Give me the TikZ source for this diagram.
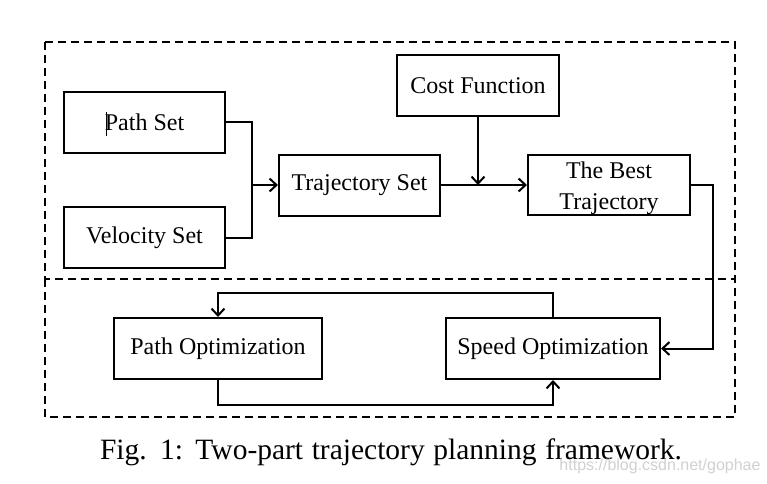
\documentclass[tikz,border=0pt]{standalone}
\usepackage{fontspec}
\setmainfont{Liberation Serif}
\newfontfamily\wmfont{Liberation Sans}
\usetikzlibrary{arrows.meta}
\begin{document}
\begin{tikzpicture}[x=1pt,y=-1pt,
  boxnode/.style={draw, line width=2pt, inner sep=0pt, minimum height=61pt,
    font=\fontsize{24}{31}\selectfont, align=center},
  lbl/.style={inner sep=0pt, font=\fontsize{24}{31}\selectfont, align=center},
  conn/.style={line width=2pt},
  arr/.style={line width=2pt, -{Straight Barb[length=7pt,width=13pt,line width=2pt]}},
  dashbox/.style={line width=2pt, dash pattern=on 8pt off 5pt}]
\useasboundingbox (0,0) rectangle (767,483);
\fill[white] (0,0) rectangle (767,483);
% dashed frames
\draw[dashbox] (45,42) rectangle (735,279);
\draw[dashbox] (45,279) rectangle (735,417);
% nodes
\node[boxnode, minimum width=161pt] (ps) at (144.5,122) {Path Set};
\node[boxnode, minimum width=161pt] (vs) at (144.5,237.5) {Velocity Set};
\node[boxnode, minimum width=161pt] (ts) at (359.5,185) {Trajectory Set};
\node[boxnode, minimum width=162pt] (cf) at (478,85.5) {Cost Function};
\node[boxnode, minimum width=162pt, minimum height=60pt] (bt) at (609,185) {};
\node[lbl] (btl) at (609,188) {The Best\\Trajectory};
\node[boxnode, minimum width=208pt] (po) at (218,348.5) {Path Optimization};
\node[boxnode, minimum width=214pt] (so) at (553,348.5) {Speed Optimization};
% text cursor artifact
\draw[line width=0.8pt] (106,112) -- (106,136);
% connectors
\coordinate (j) at (252,185);
\draw[conn] (ps.east) -| (j);
\draw[conn] (vs.east) -| (j);
\draw[arr] (j) -- (ts.west);
\draw[arr] (ts.east) -- (bt.west);
\draw[arr] (cf.south) -- (cf.south |- ts.east);
\coordinate (r) at (713,348.5);
\draw[arr] (bt.east) -| (r) -- (so.east);
\draw[arr] (so.north) -- ++(0,-24.5) -| (po.north);
\draw[arr] (po.south) -- ++(0,24.5) -| (so.south);
% caption
\node[font=\fontsize{29.5}{34}\selectfont, inner sep=0pt] (cap) at (391,452)
  {\makebox[582pt][s]{Fig. 1: Two-part trajectory planning framework.}};
% watermark
\node[font=\wmfont\fontsize{16}{18}\selectfont, text=black!18, inner sep=0pt] (wm) at (660,466)
  {https://blog.csdn.net/gophae};
\end{tikzpicture}
\end{document}
